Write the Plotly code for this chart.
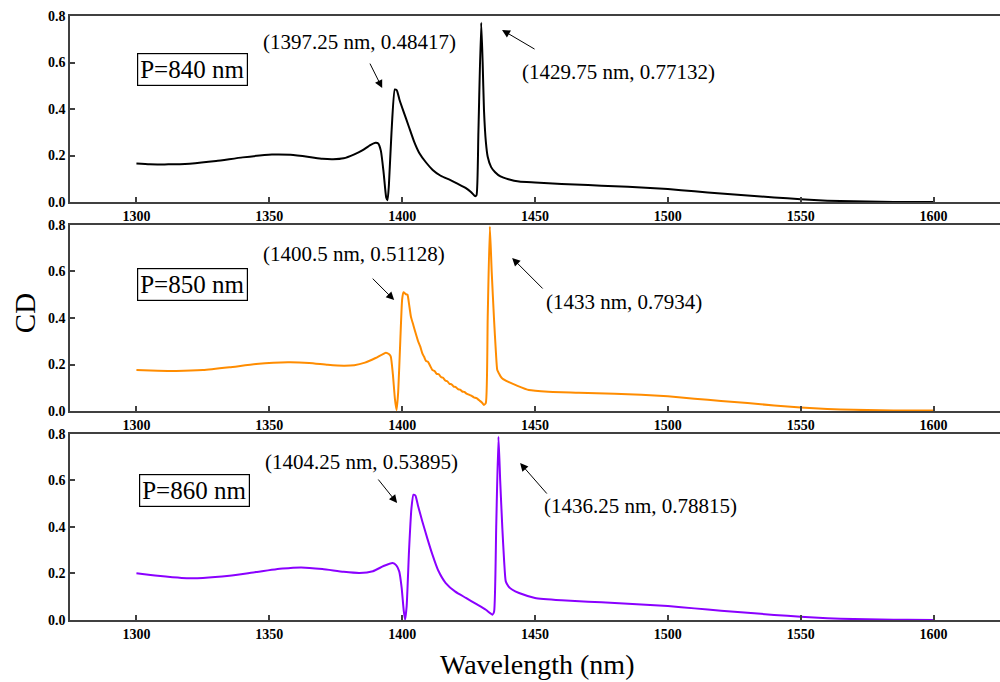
import plotly.graph_objects as go
from plotly.subplots import make_subplots

# ---------------- data ----------------
wl_840 = [1300, 1305, 1312, 1320, 1330, 1340, 1351, 1358, 1365, 1370, 1374, 1378, 1382, 1385, 1388,
          1390, 1391, 1392, 1393, 1394, 1394.5, 1395, 1396, 1397.25, 1398, 1399, 1400.5, 1402.5,
          1404.5, 1406.5, 1409, 1411.5, 1414.5, 1418, 1421, 1424, 1426, 1427.5, 1428, 1428.7,
          1429.75, 1430.3, 1430.8, 1431.5, 1432.2, 1433.5, 1435, 1437, 1440, 1444, 1450, 1460,
          1470, 1480, 1490, 1500, 1510, 1520, 1530, 1540, 1550, 1560, 1570, 1580, 1590, 1600]
cd_840 = [0.166, 0.163, 0.162, 0.165, 0.176, 0.192, 0.204, 0.203, 0.194, 0.186, 0.184, 0.188, 0.205,
          0.222, 0.245, 0.255, 0.252, 0.22, 0.13, 0.02, 0.008, 0.07, 0.30, 0.48417, 0.48, 0.44, 0.39,
          0.325, 0.26, 0.21, 0.17, 0.138, 0.113, 0.095, 0.078, 0.06, 0.042, 0.025, 0.03, 0.30,
          0.77132, 0.60, 0.396, 0.26, 0.195, 0.15, 0.128, 0.11, 0.098, 0.088, 0.084, 0.078,
          0.073, 0.068, 0.063, 0.056, 0.046, 0.037, 0.028, 0.020, 0.012, 0.006, 0.003, 0.001, 0.0, 0.0]

wl_850 = [1300, 1308, 1315, 1325, 1335, 1345, 1357, 1365, 1372, 1378, 1382, 1386, 1390, 1393.9, 1395,
          1395.7, 1396.5, 1397.3, 1397.9, 1398.5, 1399.3, 1400.0, 1400.5, 1401.3, 1402, 1402.6,
          1403.3, 1404.2, 1405.1, 1406, 1406.8, 1407.6, 1408.3, 1409, 1409.7, 1410.5, 1411.4, 1412.2,
          1413, 1413.8, 1414.6, 1415.4, 1416.2, 1417, 1417.8, 1418.6, 1419.4, 1420.2, 1421, 1421.8,
          1422.6, 1423.4, 1424.2, 1425, 1426, 1427, 1428, 1429, 1430, 1430.8, 1431.5, 1432.2, 1433,
          1433.7, 1434.6, 1435.3, 1435.8, 1436.5, 1437.1, 1437.7, 1440, 1443, 1447.7, 1455, 1466.5,
          1480, 1490, 1500, 1510, 1520, 1530, 1540, 1550, 1560, 1570, 1580, 1590, 1600]
cd_850 = [0.176, 0.173, 0.172, 0.176, 0.188, 0.202, 0.210, 0.207, 0.199, 0.195, 0.197, 0.208, 0.228,
          0.251, 0.245, 0.235, 0.16, 0.05, 0.004, 0.08, 0.30, 0.48, 0.51128, 0.503, 0.50, 0.46,
          0.406, 0.37, 0.334, 0.30, 0.278, 0.248, 0.232, 0.215, 0.212, 0.195, 0.176, 0.172,
          0.160, 0.158, 0.146, 0.143, 0.131, 0.128, 0.117, 0.115, 0.105, 0.103, 0.094, 0.092,
          0.084, 0.082, 0.075, 0.071, 0.066, 0.059, 0.055, 0.046, 0.037, 0.026, 0.035, 0.40, 0.7934,
          0.60, 0.39, 0.25, 0.176, 0.16, 0.148, 0.14, 0.125, 0.11, 0.09, 0.083, 0.079,
          0.074, 0.070, 0.063, 0.053, 0.043, 0.034, 0.024, 0.015, 0.009, 0.005, 0.003, 0.002, 0.002]

wl_860 = [1300, 1308, 1317, 1325, 1335, 1345, 1355, 1362, 1370, 1378, 1384, 1389, 1393, 1396.4, 1397.8,
          1398.9, 1399.8, 1400.6, 1401.1, 1401.7, 1402.6, 1403.5, 1404.25, 1405, 1406, 1407.6,
          1409.5, 1411.4, 1413.5, 1416.4, 1420, 1424, 1428, 1431.5, 1434, 1434.6, 1435.4, 1436.25,
          1436.9, 1437.7, 1438.4, 1439, 1440, 1441.5, 1444, 1450, 1460, 1470, 1480, 1490, 1500,
          1510, 1520, 1530, 1540, 1550, 1560, 1570, 1580, 1590, 1600]
cd_860 = [0.201, 0.190, 0.181, 0.181, 0.190, 0.206, 0.221, 0.226, 0.219, 0.207, 0.202, 0.210, 0.232,
          0.245, 0.235, 0.209, 0.14, 0.04, 0.001, 0.06, 0.30, 0.48, 0.53895, 0.535, 0.49, 0.424,
          0.35, 0.281, 0.215, 0.159, 0.122, 0.095, 0.068, 0.044, 0.023, 0.035, 0.40, 0.78815,
          0.60, 0.396, 0.25, 0.166, 0.145, 0.13, 0.116, 0.095, 0.085, 0.079, 0.073, 0.067, 0.060,
          0.050, 0.040, 0.031, 0.022, 0.014, 0.008, 0.004, 0.002, 0.001, 0.0]

panel_labels = ["P=840 nm", "P=850 nm", "P=860 nm"]
peak1_text = ["(1397.25 nm, 0.48417)", "(1400.5 nm, 0.51128)", "(1404.25 nm, 0.53895)"]
peak2_text = ["(1429.75 nm, 0.77132)", "(1433 nm, 0.7934)", "(1436.25 nm, 0.78815)"]
x_ticks = [1300, 1350, 1400, 1450, 1500, 1550, 1600]
y_ticks = [0.0, 0.2, 0.4, 0.6, 0.8]
colors = ["#000000", "#ff8c00", "#8a00ff"]

series = [(wl_840, cd_840), (wl_850, cd_850), (wl_860, cd_860)]

# ---------------- figure ----------------
fig = make_subplots(rows=3, cols=1, shared_xaxes=False, vertical_spacing=0.038)

SERIF = "Liberation Serif"
axis_col = "#404040"

for i, (wl, cd) in enumerate(series):
    fig.add_trace(go.Scatter(x=wl, y=cd, mode="lines",
                             line=dict(color=colors[i], width=2, shape="spline", smoothing=0.5),
                             showlegend=False), row=i + 1, col=1)

# domains (paper fraction; plot area 16..620 px)
domains = [[0.692, 1.0], [0.346, 0.654], [0.0, 0.308]]
for i in range(3):
    xa = "xaxis" if i == 0 else f"xaxis{i+1}"
    ya = "yaxis" if i == 0 else f"yaxis{i+1}"
    fig.layout[xa].update(range=[1275, 1625], tickvals=x_ticks,
                          ticks="inside", ticklen=5, tickwidth=1.5, tickcolor=axis_col,
                          showline=True, linecolor=axis_col, linewidth=1.5, mirror=True,
                          showgrid=False, zeroline=False,
                          tickfont=dict(family=SERIF, size=14, color="black", weight="bold"))
    fig.layout[ya].update(range=[0, 0.8], tickvals=y_ticks, tickformat=".1f", domain=domains[i],
                          ticks="inside", ticklen=5, tickwidth=1.5, tickcolor=axis_col,
                          showline=True, linecolor=axis_col, linewidth=1.5, mirror=False,
                          showgrid=False, zeroline=False,
                          tickfont=dict(family=SERIF, size=14, color="black", weight="bold"))

# annotations
arrow_heads_1 = [(1392.5, 0.49, -13, -26), (1397.0, 0.477, -23, -23), (1398.1, 0.503, -20, -25)]
arrow_heads_2 = [(1437.6, 0.74, 34, 20), (1441.4, 0.658, 32, 32), (1444.4, 0.675, 28, 32)]
text1_pos = [(1383.8, 0.688), (1382.0, 0.675), (1384.6, 0.68)]
text2_pos = [(1481.6, 0.559), (1483.5, 0.469), (1489.8, 0.49)]
box_pos = [(1321.0, 0.568), (1321.0, 0.542), (1321.8, 0.555)]

for i in range(3):
    xr = "x" if i == 0 else f"x{i+1}"
    yr = "y" if i == 0 else f"y{i+1}"
    for (hx, hy, ax, ay) in (arrow_heads_1[i], arrow_heads_2[i]):
        fig.add_annotation(x=hx, y=hy, xref=xr, yref=yr, ax=ax, ay=ay, axref="pixel", ayref="pixel",
                           showarrow=True, arrowhead=2, arrowsize=1.6, arrowwidth=1, arrowcolor="black",
                           text="")
    fig.add_annotation(x=text1_pos[i][0], y=text1_pos[i][1], xref=xr, yref=yr, showarrow=False,
                       text=peak1_text[i], font=dict(family=SERIF, size=21, color="black"))
    fig.add_annotation(x=text2_pos[i][0], y=text2_pos[i][1], xref=xr, yref=yr, showarrow=False,
                       text=peak2_text[i], font=dict(family=SERIF, size=21, color="black"))
    fig.add_annotation(x=box_pos[i][0], y=box_pos[i][1], xref=xr, yref=yr, showarrow=False,
                       text=panel_labels[i], font=dict(family=SERIF, size=25, color="black"),
                       bordercolor="black", borderwidth=1.2, borderpad=2, bgcolor="white")

fig.add_annotation(x=0.502, y=-0.074, xref="paper", yref="paper", showarrow=False,
                   xanchor="center", yanchor="middle",
                   text="Wavelength (nm)", font=dict(family=SERIF, size=28, color="black"))
fig.add_annotation(x=-0.0484, y=0.508, xref="paper", yref="paper", showarrow=False, textangle=-90,
                   xanchor="center", yanchor="middle",
                   text="CD", font=dict(family=SERIF, size=29, color="black"))

fig.update_layout(width=1000, height=682, margin=dict(l=70, r=0, t=16, b=62),
                  plot_bgcolor="white", paper_bgcolor="white")

fig.write_html("out.html")
